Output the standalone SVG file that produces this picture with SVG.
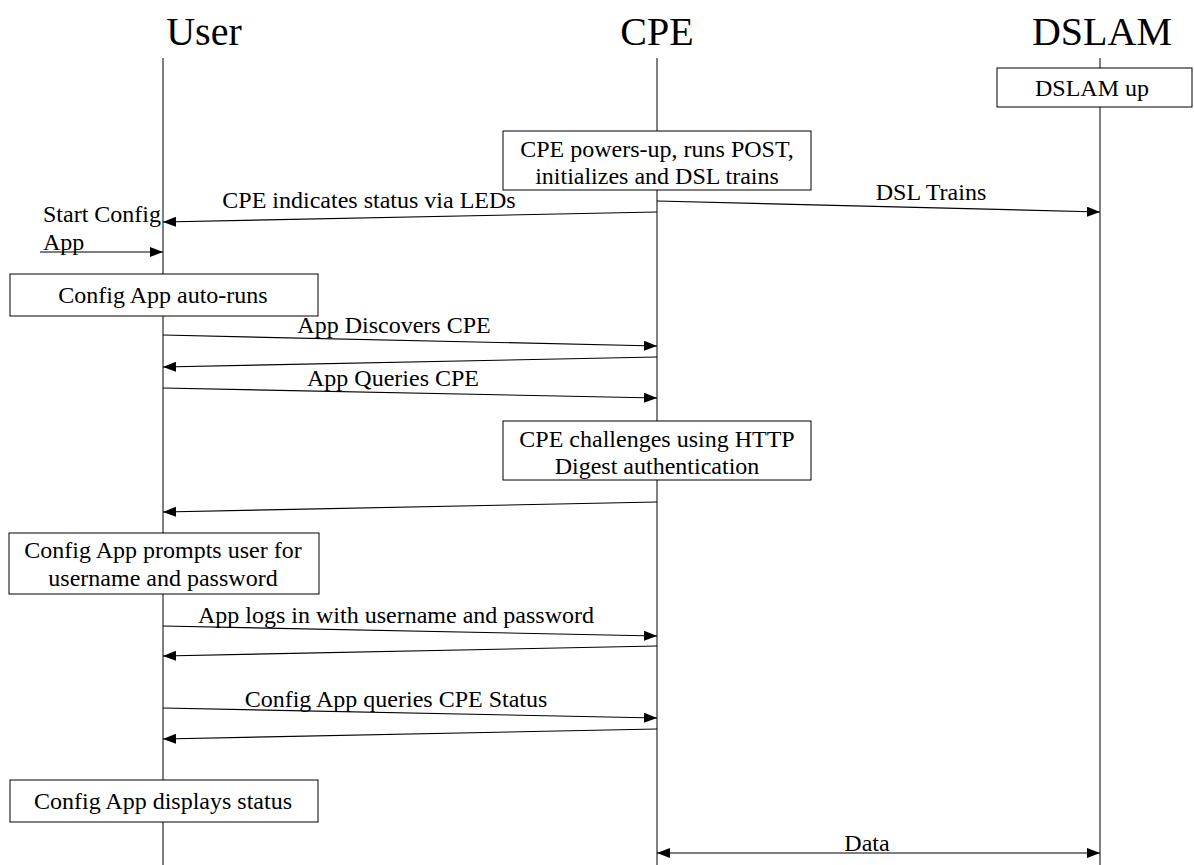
<svg xmlns="http://www.w3.org/2000/svg" width="1194" height="865" viewBox="0 0 1194 865">
<style>
.t{font-family:"Liberation Serif","Times New Roman",serif;fill:#000}
.title{font-size:40px;text-anchor:middle}
.lbl{font-size:24px}
.c{text-anchor:middle}
.box{fill:#fff;stroke:#000;stroke-width:1}
.life{stroke:#000;stroke-width:1}
.msg{stroke:#000;stroke-width:1.2;fill:none;marker-end:url(#ah)}
</style>
<defs>
<marker id="ah" viewBox="0 0 13 10" refX="13" refY="5" markerWidth="13" markerHeight="10" markerUnits="userSpaceOnUse" orient="auto-start-reverse">
<path d="M0,0 L13,5 L0,10 z" fill="#000"/>
</marker>
</defs>
<rect width="1194" height="865" fill="#fff"/>
<g id="lifelines">
<text class="t title" x="204" y="45">User</text>
<text class="t title" x="657" y="45">CPE</text>
<text class="t title" x="1102" y="45">DSLAM</text>
<line class="life" x1="163" y1="58" x2="163" y2="865"/>
<line class="life" x1="657" y1="58" x2="657" y2="865"/>
<line class="life" x1="1100" y1="58" x2="1100" y2="865"/>
</g>
<g id="node-dslam-up">
<rect class="box" x="997" y="68" width="195" height="39"/>
<text class="t lbl c" x="1092" y="96">DSLAM up</text>
</g>
<g id="node-cpe-power">
<rect class="box" x="503" y="131" width="308" height="59"/>
<text class="t lbl c" x="657" y="157">CPE powers-up, runs POST,</text>
<text class="t lbl c" x="657" y="184">initializes and DSL trains</text>
</g>
<g id="node-auto-runs">
<rect class="box" x="10" y="274" width="308" height="42"/>
<text class="t lbl c" x="163" y="303">Config App auto-runs</text>
</g>
<g id="node-challenge">
<rect class="box" x="503" y="421" width="308" height="59"/>
<text class="t lbl c" x="657" y="447">CPE challenges using HTTP</text>
<text class="t lbl c" x="657" y="474">Digest authentication</text>
</g>
<g id="node-prompts">
<rect class="box" x="9" y="533" width="310" height="61"/>
<text class="t lbl c" x="163" y="558">Config App prompts user for</text>
<text class="t lbl c" x="163" y="586">username and password</text>
</g>
<g id="node-displays">
<rect class="box" x="10" y="780" width="308" height="42"/>
<text class="t lbl c" x="163" y="809">Config App displays status</text>
</g>
<g id="connectors">
<line class="msg" x1="657" y1="212" x2="163" y2="222"/>
<text class="t lbl c" x="369" y="208">CPE indicates status via LEDs</text>
<line class="msg" x1="657" y1="201" x2="1100" y2="212"/>
<text class="t lbl c" x="931" y="200">DSL Trains</text>
<text class="t lbl" x="43" y="222">Start Config</text>
<text class="t lbl" x="43" y="250">App</text>
<line class="msg" x1="40" y1="252" x2="163" y2="252"/>
<line class="msg" x1="163" y1="335" x2="657" y2="346"/>
<text class="t lbl c" x="394" y="333">App Discovers CPE</text>
<line class="msg" x1="657" y1="357" x2="163" y2="367"/>
<line class="msg" x1="163" y1="388" x2="657" y2="398"/>
<text class="t lbl c" x="393" y="386">App Queries CPE</text>
<line class="msg" x1="657" y1="502" x2="163" y2="512"/>
<line class="msg" x1="163" y1="626" x2="657" y2="636"/>
<text class="t lbl c" x="396" y="623">App logs in with username and password</text>
<line class="msg" x1="657" y1="646" x2="163" y2="656"/>
<line class="msg" x1="163" y1="708" x2="657" y2="718"/>
<text class="t lbl c" x="396" y="707">Config App queries CPE Status</text>
<line class="msg" x1="657" y1="729" x2="163" y2="739"/>
<line class="msg" x1="657" y1="853" x2="1100" y2="853" style="marker-start:url(#ah)"/>
<text class="t lbl c" x="867" y="851">Data</text>
</g>
</svg>
